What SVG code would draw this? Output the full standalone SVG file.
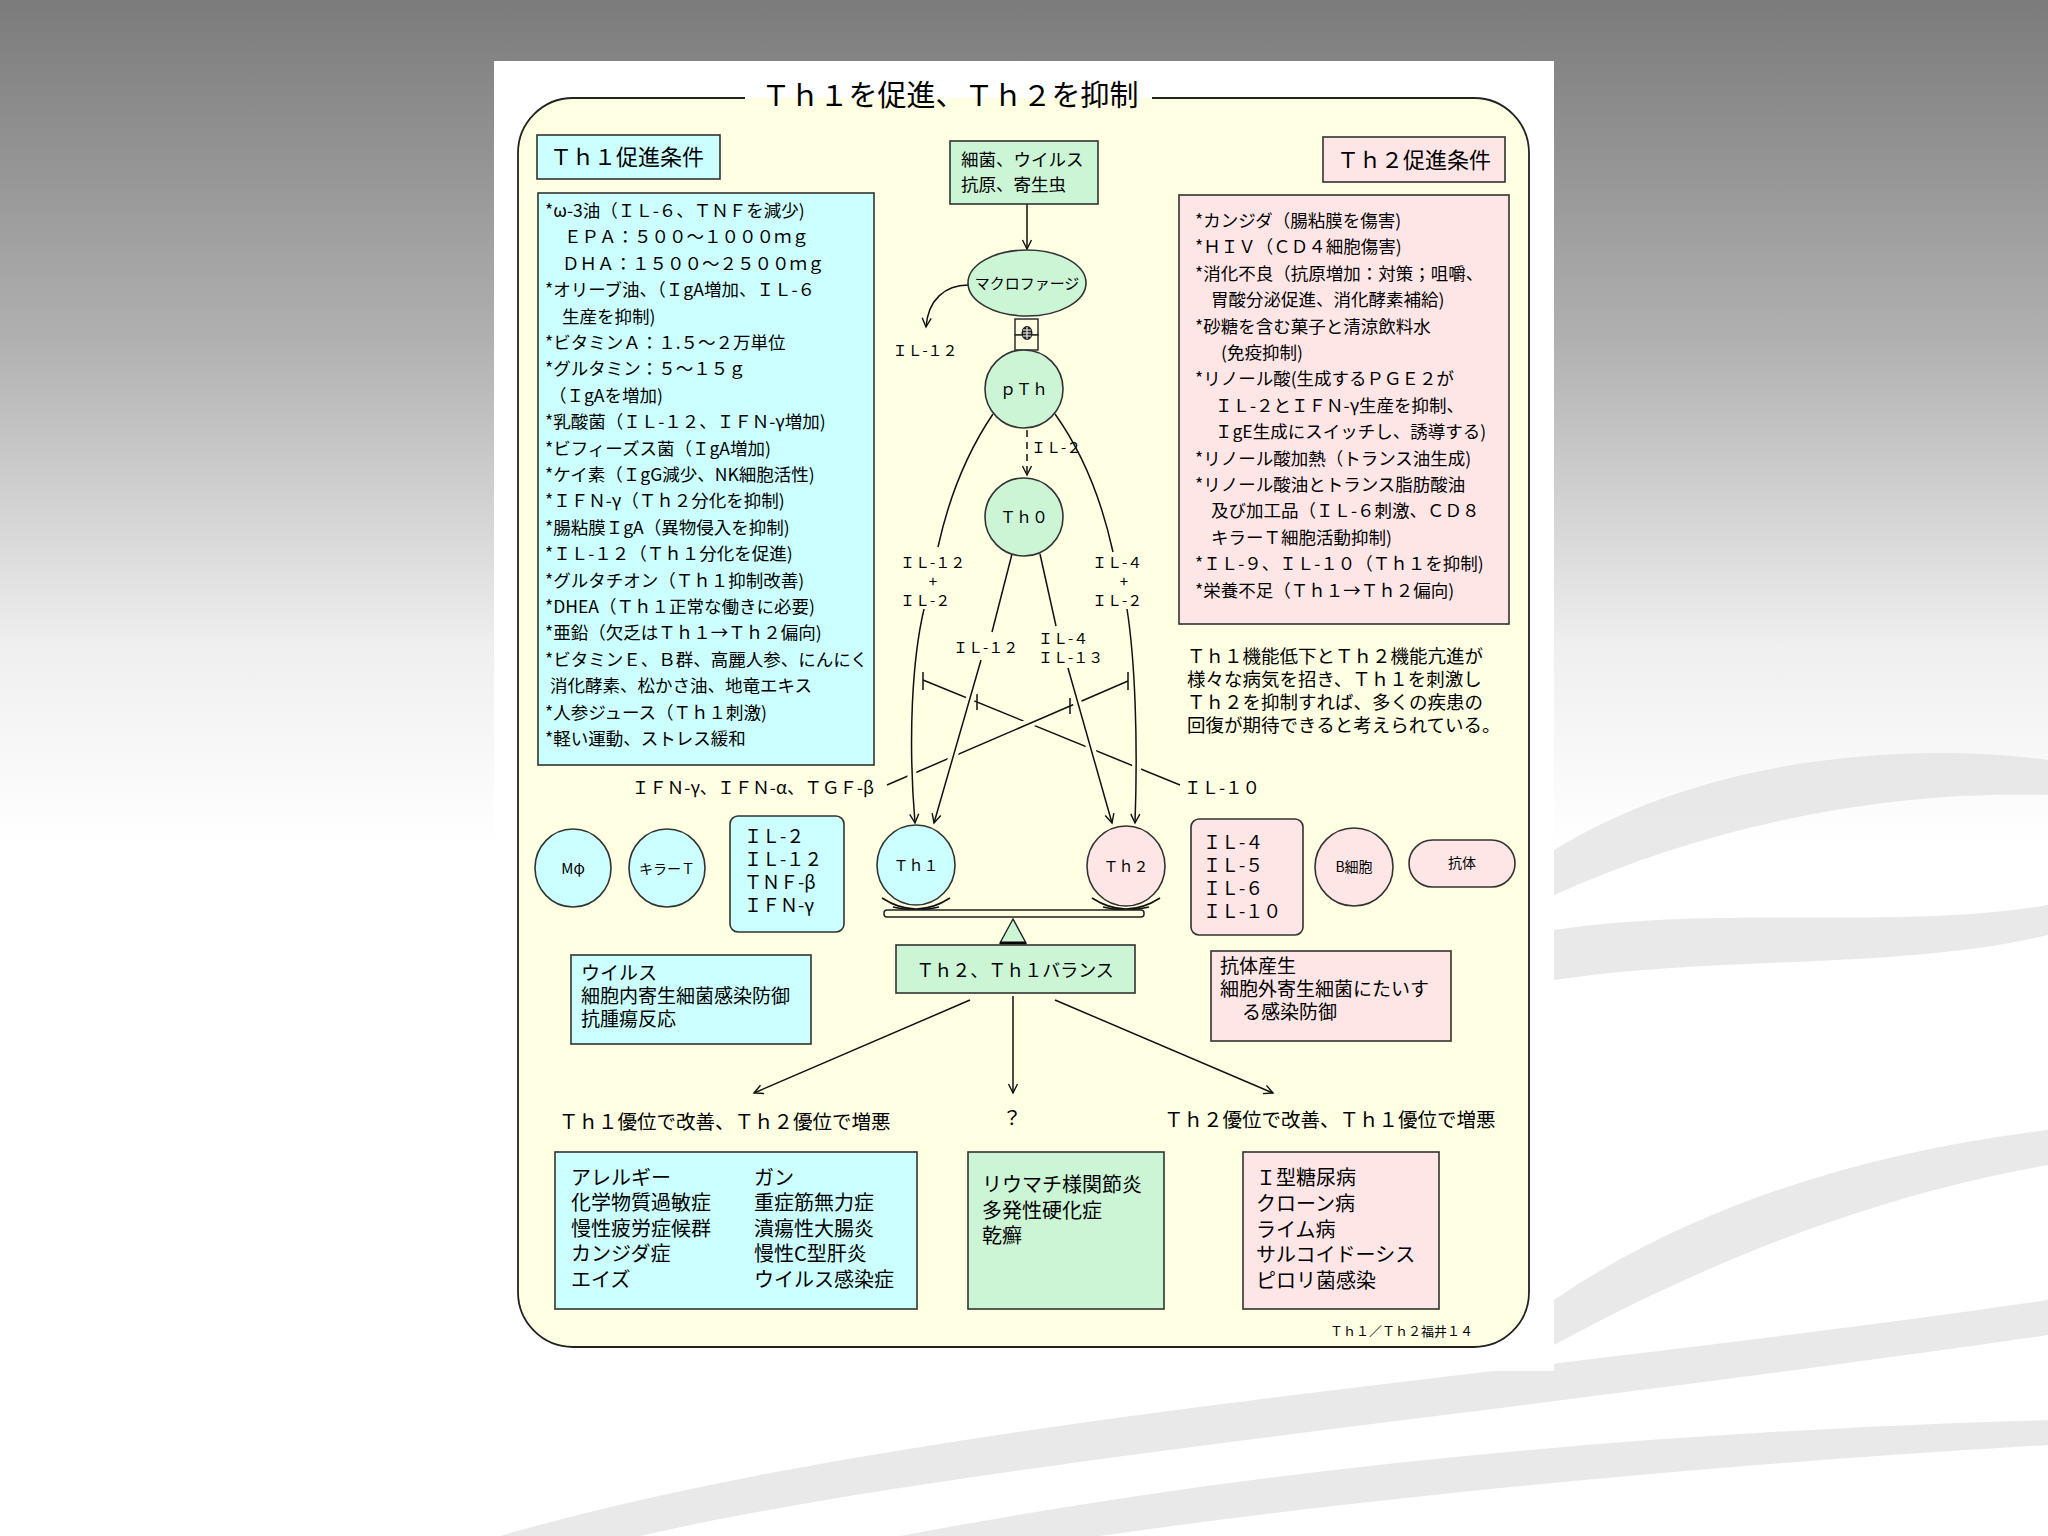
<svg xmlns="http://www.w3.org/2000/svg" width="2048" height="1536" viewBox="0 0 2048 1536">
<defs>
<linearGradient id="bg" x1="0" y1="0" x2="0" y2="1">
<stop offset="0" stop-color="#7b7b7b"/>
<stop offset="0.22" stop-color="#b0b0b0"/>
<stop offset="0.42" stop-color="#efefef"/>
<stop offset="0.55" stop-color="#ffffff"/>
</linearGradient>
<marker id="arr" markerWidth="12" markerHeight="12" refX="10" refY="6" orient="auto" markerUnits="userSpaceOnUse">
<path d="M1,1.5 L10,6 L1,10.5" fill="none" stroke="#111" stroke-width="1.4"/>
</marker>
<style>
.t{font-family:"Noto Sans CJK JP","Noto Sans",sans-serif;fill:#000}
.bx{stroke:#333;stroke-width:1.6}
.cy{fill:#CCFFFF}
.pk{fill:#FFE6E6}
.gr{fill:#CCF5D6}
.ln{fill:none;stroke:#111;stroke-width:1.5}
.halo{fill:none;stroke:#FFFFE3;stroke-width:9}
.sw{fill:#e2e2e2;opacity:0.75}
</style>
</defs>

<g id="background">
<rect x="0" y="0" width="2048" height="1536" fill="url(#bg)"/>
<path class="sw" d="M1554,850 C1700,760 1900,740 2048,760 L2048,795 C1900,790 1720,820 1554,895 Z"/>
<path class="sw" d="M1554,930 C1720,905 1900,930 2048,905 L2048,935 C1900,970 1720,955 1554,980 Z"/>
<path class="sw" d="M1554,1300 C1700,1200 1880,1150 2048,1130 L2048,1165 C1880,1195 1720,1255 1554,1345 Z"/>
<path class="sw" d="M500,1536 C900,1420 1500,1380 2048,1300 L2048,1335 C1500,1415 950,1465 640,1536 Z"/>
<path class="sw" d="M900,1536 C1300,1460 1700,1430 2048,1420 L2048,1445 C1700,1465 1350,1500 1100,1536 Z"/>
</g>

<g id="panel">
<rect x="494" y="61" width="1060" height="1310" fill="#ffffff"/>
<rect x="518" y="98" width="1011" height="1249" rx="55" ry="55" fill="#FFFFE3"/>
<path d="M745,98 L573,98 A55,55 0 0 0 518,153 L518,1292 A55,55 0 0 0 573,1347 L1474,1347 A55,55 0 0 0 1529,1292 L1529,153 A55,55 0 0 0 1474,98 L1152,98" fill="none" stroke="#222" stroke-width="1.8"/>
<text class="t" x="950" y="106" font-size="29" text-anchor="middle">Ｔｈ１を促進、Ｔｈ２を抑制</text>
<text class="t" x="1473" y="1336" font-size="13" text-anchor="end">Ｔｈ１／Ｔｈ２福井１４</text>
</g>

<g id="connectors">
<path class="ln" d="M1027,204 L1027,249" marker-end="url(#arr)"/>
<path class="ln" d="M968,285 C945,285 928,300 926,327" marker-end="url(#arr)"/>
<path class="ln" d="M1027,430 L1027,475" stroke-dasharray="7,5" marker-end="url(#arr)"/>
<path class="ln" d="M993,414 Q955,470 938,547"/>
<path class="ln" d="M1055,414 Q1095,470 1113,552"/>
<path class="ln" d="M1012,554 L992,632"/>
<path class="ln" d="M1040,554 L1056,626"/>
<path class="ln" d="M1180,785 L923,680"/>
<path class="ln" d="M923,672 L923,690 M977,694 L977,710"/>
<path class="halo" d="M895,781 L1120,684"/>
<path class="ln" d="M887,785 L1128,681"/>
<path class="ln" d="M1070,698 L1070,714 M1128,672 L1128,690"/>
<path class="halo" d="M924,612 C912,660 908,740 914,810"/>
<path class="halo" d="M981,663 L937,810"/>
<path class="halo" d="M1068,671 L1109,810"/>
<path class="halo" d="M1127,612 C1135,660 1138,740 1136,810"/>
<path class="ln" d="M924,609 C912,660 908,740 915,823" marker-end="url(#arr)"/>
<path class="ln" d="M981,660 L934,823" marker-end="url(#arr)"/>
<path class="ln" d="M1068,668 L1112,823" marker-end="url(#arr)"/>
<path class="ln" d="M1127,609 C1135,660 1138,740 1135,823" marker-end="url(#arr)"/>
<path class="ln" d="M970,1000 L754,1093" marker-end="url(#arr)"/>
<path class="ln" d="M1013,996 L1013,1093" marker-end="url(#arr)"/>
<path class="ln" d="M1055,1000 L1273,1093" marker-end="url(#arr)"/>
</g>

<g id="labels">
<text class="t" x="925" y="356" font-size="15" text-anchor="middle">ＩＬ-１２</text>
<text class="t" x="1031" y="453" font-size="15">ＩＬ-２</text>
<text class="t" x="900" y="568" font-size="15">ＩＬ-１２</text>
<text class="t" x="933" y="587" font-size="15" text-anchor="middle">+</text>
<text class="t" x="900" y="606" font-size="15">ＩＬ-２</text>
<text class="t" x="1092" y="568" font-size="15">ＩＬ-４</text>
<text class="t" x="1124" y="587" font-size="15" text-anchor="middle">+</text>
<text class="t" x="1092" y="606" font-size="15">ＩＬ-２</text>
<text class="t" x="953" y="653" font-size="15">ＩＬ-１２</text>
<text class="t" x="1038" y="644" font-size="15">ＩＬ-４</text>
<text class="t" x="1038" y="663" font-size="15">ＩＬ-１３</text>
<text class="t" x="874" y="794" font-size="17.5" text-anchor="end">ＩＦＮ-γ、ＩＦＮ-α、ＴＧＦ-β</text>
<text class="t" x="1184" y="794" font-size="17.5">ＩＬ-１０</text>
<text class="t" x="559" y="1129" font-size="19.5">Ｔｈ１優位で改善、Ｔｈ２優位で増悪</text>
<text class="t" x="1012" y="1125" font-size="19.5" text-anchor="middle">？</text>
<text class="t" x="1164" y="1127" font-size="19.5">Ｔｈ２優位で改善、Ｔｈ１優位で増悪</text>
<text class="t" font-size="18.5"><tspan x="1187" y="663">Ｔｈ１機能低下とＴｈ２機能亢進が</tspan><tspan x="1187" y="686">様々な病気を招き、Ｔｈ１を刺激し</tspan><tspan x="1187" y="709">Ｔｈ２を抑制すれば、多くの疾患の</tspan><tspan x="1187" y="732">回復が期待できると考えられている。</tspan></text>
</g>

<g id="th1-header">
<rect class="bx cy" x="537" y="135" width="183" height="44"/>
<text class="t" x="550" y="165" font-size="22">Ｔｈ１促進条件</text>
</g>

<g id="th1-conditions">
<rect class="bx cy" x="538" y="193" width="336" height="572"/>
<text class="t" font-size="17.5">
<tspan x="545" y="217">*ω-3油（ＩＬ-６、ＴＮＦを減少)</tspan>
<tspan x="564" y="243.4">ＥＰＡ：５００～１０００ｍｇ</tspan>
<tspan x="562" y="269.8">ＤＨＡ：１５００～２５００ｍｇ</tspan>
<tspan x="545" y="296.2">*オリーブ油、（ＩgA増加、ＩＬ-６</tspan>
<tspan x="562" y="322.6">生産を抑制)</tspan>
<tspan x="545" y="349">*ビタミンＡ：１.５～２万単位</tspan>
<tspan x="545" y="375.4">*グルタミン：５～１５ｇ</tspan>
<tspan x="549" y="401.8">（ＩgAを増加)</tspan>
<tspan x="545" y="428.2">*乳酸菌（ＩＬ-１２、ＩＦＮ-γ増加)</tspan>
<tspan x="545" y="454.6">*ビフィーズス菌（ＩgA増加)</tspan>
<tspan x="545" y="481">*ケイ素（ＩgG減少、NK細胞活性)</tspan>
<tspan x="545" y="507.4">*ＩＦＮ-γ（Ｔｈ２分化を抑制)</tspan>
<tspan x="545" y="533.8">*腸粘膜ＩgA（異物侵入を抑制)</tspan>
<tspan x="545" y="560.2">*ＩＬ-１２（Ｔｈ１分化を促進)</tspan>
<tspan x="545" y="586.6">*グルタチオン（Ｔｈ１抑制改善)</tspan>
<tspan x="545" y="613">*DHEA（Ｔｈ１正常な働きに必要)</tspan>
<tspan x="545" y="639.4">*亜鉛（欠乏はＴｈ１→Ｔｈ２偏向)</tspan>
<tspan x="545" y="665.8">*ビタミンＥ、Ｂ群、高麗人参、にんにく</tspan>
<tspan x="550" y="692.2">消化酵素、松かさ油、地竜エキス</tspan>
<tspan x="545" y="718.6">*人参ジュース（Ｔｈ１刺激)</tspan>
<tspan x="545" y="745">*軽い運動、ストレス緩和</tspan>
</text>
</g>

<g id="th2-header">
<rect class="bx pk" x="1323" y="137" width="182" height="45"/>
<text class="t" x="1337" y="168" font-size="22">Ｔｈ２促進条件</text>
</g>

<g id="th2-conditions">
<rect class="bx pk" x="1179" y="195" width="330" height="429"/>
<text class="t" font-size="17.5">
<tspan x="1195" y="227">*カンジダ（腸粘膜を傷害)</tspan>
<tspan x="1195" y="253.4">*ＨＩＶ（ＣＤ４細胞傷害)</tspan>
<tspan x="1195" y="279.8">*消化不良（抗原増加：対策；咀嚼、</tspan>
<tspan x="1211" y="306.2">胃酸分泌促進、消化酵素補給)</tspan>
<tspan x="1195" y="332.6">*砂糖を含む菓子と清涼飲料水</tspan>
<tspan x="1221" y="359">(免疫抑制)</tspan>
<tspan x="1195" y="385.4">*リノール酸(生成するＰＧＥ２が</tspan>
<tspan x="1215" y="411.8">ＩＬ-２とＩＦＮ-γ生産を抑制、</tspan>
<tspan x="1215" y="438.2">ＩgE生成にスイッチし、誘導する)</tspan>
<tspan x="1195" y="464.6">*リノール酸加熱（トランス油生成)</tspan>
<tspan x="1195" y="491">*リノール酸油とトランス脂肪酸油</tspan>
<tspan x="1211" y="517.4">及び加工品（ＩＬ-６刺激、ＣＤ８</tspan>
<tspan x="1211" y="543.8">キラーＴ細胞活動抑制)</tspan>
<tspan x="1195" y="570.2">*ＩＬ-９、ＩＬ-１０（Ｔｈ１を抑制)</tspan>
<tspan x="1195" y="596.6">*栄養不足（Ｔｈ１→Ｔｈ２偏向)</tspan>
</text>
</g>

<g id="antigen">
<rect class="bx gr" x="950" y="141" width="148" height="63"/>
<text class="t" font-size="17.5"><tspan x="961" y="166">細菌、ウイルス</tspan><tspan x="961" y="191">抗原、寄生虫</tspan></text>
</g>

<g id="macrophage">
<ellipse class="bx gr" cx="1027" cy="283" rx="59" ry="33"/>
<text class="t" x="1027" y="289" font-size="15" text-anchor="middle">マクロファージ</text>
</g>

<g id="receptor">
<rect x="1015" y="319" width="23" height="16" fill="#FFFFE3" stroke="#222" stroke-width="1.4"/>
<rect x="1015" y="335" width="23" height="15" fill="#FFFFE3" stroke="#222" stroke-width="1.4"/>
<ellipse cx="1027" cy="333" rx="5.5" ry="7" fill="#222"/>
<path d="M1023,330 L1031,330 M1023,333 L1031,333 M1023,336 L1031,336 M1027,327 L1027,339" stroke="#fff" stroke-width="1"/>
</g>

<g id="pTh">
<circle class="bx gr" cx="1024" cy="389" r="39"/>
<text class="t" x="1024" y="395" font-size="16" text-anchor="middle">ｐＴｈ</text>
</g>

<g id="Th0">
<circle class="bx gr" cx="1024" cy="517" r="39"/>
<text class="t" x="1024" y="523" font-size="16" text-anchor="middle">Ｔｈ０</text>
</g>

<g id="Th1">
<ellipse class="bx cy" cx="916" cy="865" rx="39" ry="40"/>
<text class="t" x="916" y="871" font-size="15" text-anchor="middle">Ｔｈ１</text>
<path class="ln" d="M882,898 Q916,920 950,898"/>
<path class="ln" d="M893,907 Q916,913 939,907"/>
</g>

<g id="Th2">
<ellipse class="bx pk" cx="1126" cy="866" rx="39" ry="40"/>
<text class="t" x="1126" y="872" font-size="15" text-anchor="middle">Ｔｈ２</text>
<path class="ln" d="M1092,898 Q1126,920 1160,898"/>
<path class="ln" d="M1103,907 Q1126,913 1149,907"/>
</g>

<g id="balance">
<rect x="884" y="910" width="260" height="7" rx="3" fill="#FFFFE3" stroke="#222" stroke-width="1.5"/>
<path d="M1013,919 L1000,943 L1026,943 Z" fill="#CCF5D6" stroke="#222" stroke-width="1.4"/>
<path d="M1000,943 L1026,943" stroke="#000" stroke-width="3"/>
</g>

<g id="balance-box">
<rect class="bx gr" x="896" y="945" width="239" height="48"/>
<text class="t" x="1015" y="977" font-size="18" text-anchor="middle">Ｔｈ２、Ｔｈ１バランス</text>
</g>

<g id="mphi">
<ellipse class="bx cy" cx="573" cy="868" rx="38" ry="39"/>
<text class="t" x="573" y="874" font-size="15" text-anchor="middle">Mφ</text>
</g>

<g id="killer-t">
<ellipse class="bx cy" cx="667" cy="868" rx="38" ry="39"/>
<text class="t" x="667" y="874" font-size="14" text-anchor="middle">キラーＴ</text>
</g>

<g id="th1-cytokines">
<rect class="bx cy" x="730" y="816" width="114" height="116" rx="8"/>
<text class="t" font-size="18"><tspan x="744" y="843">ＩＬ-２</tspan><tspan x="744" y="866">ＩＬ-１２</tspan><tspan x="744" y="889">ＴＮＦ-β</tspan><tspan x="744" y="912">ＩＦＮ-γ</tspan></text>
</g>

<g id="th2-cytokines">
<rect class="bx pk" x="1191" y="819" width="112" height="116" rx="8"/>
<text class="t" font-size="18"><tspan x="1203" y="849">ＩＬ-４</tspan><tspan x="1203" y="872">ＩＬ-５</tspan><tspan x="1203" y="895">ＩＬ-６</tspan><tspan x="1203" y="918">ＩＬ-１０</tspan></text>
</g>

<g id="b-cell">
<circle class="bx pk" cx="1354" cy="867" r="39"/>
<text class="t" x="1354" y="872" font-size="14" text-anchor="middle">B細胞</text>
</g>

<g id="antibody">
<rect class="bx pk" x="1409" y="840" width="106" height="47" rx="23.5"/>
<text class="t" x="1462" y="868" font-size="14" text-anchor="middle">抗体</text>
</g>

<g id="th1-function">
<rect class="bx cy" x="571" y="955" width="240" height="89"/>
<text class="t" font-size="19"><tspan x="581" y="980">ウイルス</tspan><tspan x="581" y="1003">細胞内寄生細菌感染防御</tspan><tspan x="581" y="1026">抗腫瘍反応</tspan></text>
</g>

<g id="th2-function">
<rect class="bx pk" x="1211" y="951" width="240" height="90"/>
<text class="t" font-size="19"><tspan x="1220" y="973">抗体産生</tspan><tspan x="1220" y="996">細胞外寄生細菌にたいす</tspan><tspan x="1242" y="1019">る感染防御</tspan></text>
</g>

<g id="th1-diseases">
<rect class="bx cy" x="555" y="1152" width="362" height="157"/>
<text class="t" font-size="20"><tspan x="571" y="1185">アレルギー</tspan><tspan x="571" y="1210">化学物質過敏症</tspan><tspan x="571" y="1236">慢性疲労症候群</tspan><tspan x="571" y="1261">カンジダ症</tspan><tspan x="571" y="1287">エイズ</tspan></text>
<text class="t" font-size="20"><tspan x="754" y="1185">ガン</tspan><tspan x="754" y="1210">重症筋無力症</tspan><tspan x="754" y="1236">潰瘍性大腸炎</tspan><tspan x="754" y="1261">慢性C型肝炎</tspan><tspan x="754" y="1287">ウイルス感染症</tspan></text>
</g>

<g id="unknown-diseases">
<rect class="bx gr" x="968" y="1152" width="196" height="157"/>
<text class="t" font-size="20"><tspan x="982" y="1192">リウマチ様関節炎</tspan><tspan x="982" y="1218">多発性硬化症</tspan><tspan x="982" y="1243">乾癬</tspan></text>
</g>

<g id="th2-diseases">
<rect class="bx pk" x="1243" y="1152" width="196" height="157"/>
<text class="t" font-size="20"><tspan x="1256" y="1185">Ｉ型糖尿病</tspan><tspan x="1256" y="1211">クローン病</tspan><tspan x="1256" y="1237">ライム病</tspan><tspan x="1256" y="1262">サルコイドーシス</tspan><tspan x="1256" y="1288">ピロリ菌感染</tspan></text>
</g>
</svg>
